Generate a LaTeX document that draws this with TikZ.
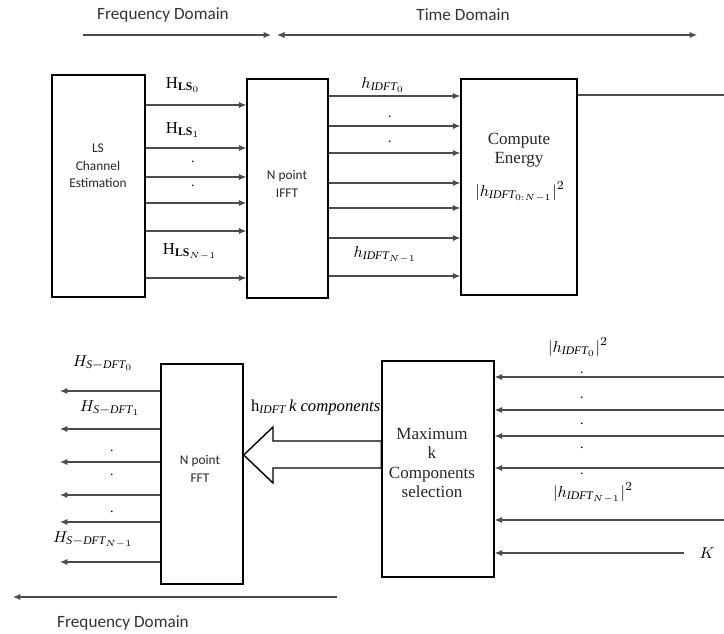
\documentclass[tikz,border=0pt]{standalone}
\usepackage{amsmath}
\usepackage{fontspec}
\setmainfont{Liberation Serif}
\newfontfamily\calibrifont{Carlito}
\usetikzlibrary{arrows.meta,positioning,calc}

\begin{document}
\begin{tikzpicture}[x=0.02cm,y=-0.02cm,>={Latex[length=1.5mm,width=1.25mm]},
 box/.style={draw,line width=0.8pt,inner sep=0pt},
 sig/.style={->,draw=black!70,line width=0.6pt},
 lbl/.style={font=\fontsize{9.5}{11}\selectfont,inner sep=1pt},
 dotlbl/.style={font=\fontsize{8}{9}\selectfont,inner sep=0pt},
 sanstxt/.style={font=\calibrifont\fontsize{7.6}{10}\selectfont,align=center,text=black!85},
 seriftxt/.style={font=\fontsize{9.7}{11}\selectfont,align=center,text=black!85},
 dom/.style={font=\calibrifont\fontsize{9.8}{11}\selectfont,text=black!80}]
\useasboundingbox (0,0) rectangle (724,634);
\node[dom] (fdtop) at (163,15) {Frequency Domain};
\node[dom] (tdtop) at (463,15) {Time Domain};
\coordinate (f0) at (83,35);
\coordinate (f1) at (271,35);
\coordinate (t0) at (277,35);
\coordinate (t1) at (697,35);
\draw[sig] (f0) -- (f1);
\draw[sig,<->] (t0) -- (t1);
\node[box,minimum width=1.86cm,minimum height=4.44cm] (ls) at (98.5,186) {};
\node[sanstxt] (lstxt) at (98,166) {LS\\Channel\\Estimation};
\node[box,minimum width=1.62cm,minimum height=4.38cm] (ifft) at (287.5,188.5) {};
\node[sanstxt] (iffttxt) at (287,184) {N point\\IFFT};
\node[box,minimum width=2.32cm,minimum height=4.32cm] (en) at (519,187) {};
\node[seriftxt] (entxt) at (519,150) {Compute\\Energy};
\node[lbl] (enform) at (520,192) {$|h_{\mathit{IDFT}_{0:N-1}}|^2$};
\foreach \y in {105,148,177,203,231,278}
  \draw[sig] (ls.east |- 0,\y) -- (ifft.west |- 0,\y);
\foreach \y in {96,126,153,183,208,238,276}
  \draw[sig] (ifft.east |- 0,\y) -- (en.west |- 0,\y);
\coordinate (eout) at (724,95);
\draw[draw=black!70,line width=0.6pt] (en.east |- eout) -- (eout);
\node[lbl] (hls0) at (183,85) {$\mathrm{H}_{\mathbf{LS}_0}$};
\node[lbl] (hls1) at (183,130) {$\mathrm{H}_{\mathbf{LS}_1}$};
\node[dotlbl] (ld1) at (193,162) {.};
\node[dotlbl] (ld2) at (193,186) {.};
\node[lbl] (hlsn) at (190,252) {$\mathrm{H}_{\mathbf{LS}_{N-1}}$};
\node[lbl] (hid0) at (383,85) {$h_{\mathit{IDFT}_0}$};
\node[dotlbl] (id1) at (390,117) {.};
\node[dotlbl] (id2) at (390,142) {.};
\node[lbl] (hidn) at (385,255) {$h_{\mathit{IDFT}_{N-1}}$};
\node[box,minimum width=1.64cm,minimum height=4.4cm] (fft) at (202,474) {};
\node[sanstxt] (ffttxt) at (200,469) {N point\\FFT};
\node[box,minimum width=2.24cm,minimum height=4.32cm] (mx) at (438,469) {};
\node[seriftxt] (mxtxt) at (432,463) {Maximum\\k\\Components\\selection};
\coordinate (rim) at (724,0);
\foreach \y in {377,410,436,468,520}
  \draw[sig] (rim |- 0,\y) -- (mx.east |- 0,\y);
\node[lbl] (kval) at (707,553) {$K$};
\draw[sig] ([xshift=-0.26cm]kval.west) -- (mx.east |- kval);
\node[lbl] (e0) at (578,347) {$|h_{\mathit{IDFT}_0}|^2$};
\foreach \y [count=\i] in {373,398,424,448,474}
  \node[dotlbl] (ed\i) at (582,\y) {.};
\node[lbl] (en1) at (593,493) {$|h_{\mathit{IDFT}_{N-1}}|^2$};
\coordinate (lrim) at (60,0);
\foreach \y in {391,429,462,495,522,562}
  \draw[sig] (fft.west |- 0,\y) -- (lrim |- 0,\y);
\node[lbl] (s0) at (103,363) {$H_{\mathit{S-DFT}_0}$};
\node[lbl] (s1) at (110,408) {$H_{\mathit{S-DFT}_1}$};
\node[dotlbl] (sd1) at (112,451) {.};
\node[dotlbl] (sd2) at (112,475) {.};
\node[dotlbl] (sd3) at (112,512) {.};
\node[lbl] (sn) at (93,540) {$H_{\mathit{S-DFT}_{N-1}}$};
\draw[line width=0.8pt,fill=white] (fft.east |- 0,455) -- (273,427) -- (273,441) -- (mx.west |- 0,441)
  -- (mx.west |- 0,468) -- (273,468) -- (273,483) -- cycle;
\node[lbl,anchor=west] (kcomp) at (249,407) {$\mathrm{h}_{\mathit{IDFT}}\,\mathit{k\ components}$};
\coordinate (b0) at (337,597);
\coordinate (b1) at (13,597);
\draw[sig] (b0) -- (b1);
\node[dom] (fdbot) at (123,623) {Frequency Domain};
\end{tikzpicture}
\end{document}
